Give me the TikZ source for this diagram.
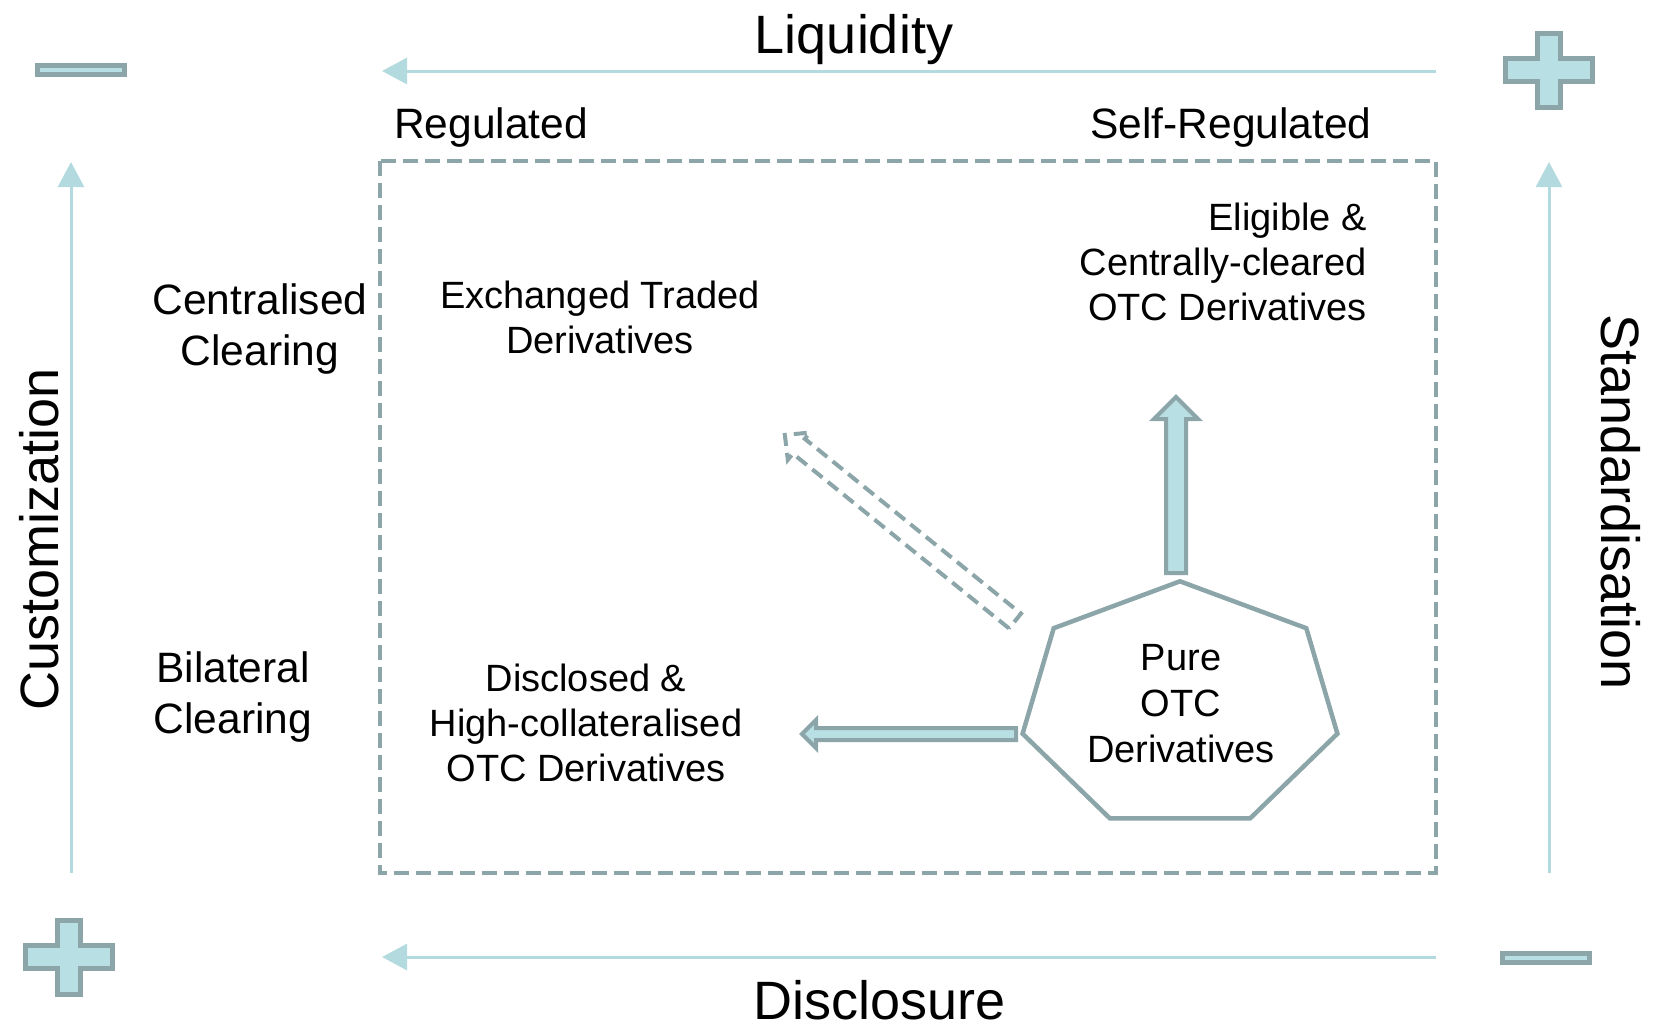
\documentclass[tikz,border=0pt]{standalone}
\usepackage{fontspec}
\setmainfont{Liberation Sans}
\usetikzlibrary{arrows.meta,calc}
\definecolor{edge}{HTML}{8BA5A8}
\definecolor{pale}{HTML}{B8DFE3}
\definecolor{axis}{HTML}{B3DBDF}
\begin{document}
\begin{tikzpicture}[x=1pt,y=-1pt,
  axisline/.style={draw=axis,line width=3pt,-{Triangle[length=25pt,width=26pt]}},
  big/.style={font=\fontsize{54}{60}\selectfont, inner sep=0pt},
  side/.style={font=\fontsize{42.5}{51}\selectfont, inner sep=0pt, align=center},
  cell/.style={font=\fontsize{38}{45}\selectfont, inner sep=0pt, align=center},
  sign/.style={draw=edge, fill=pale, line width=5pt, line join=miter},
  blockarrow/.style={draw=edge, fill=pale, line width=4pt, line join=miter},
  ghostarrow/.style={draw=edge, line width=4pt, dash pattern=on 13pt off 7pt, line join=miter},
  frame/.style={draw=edge, line width=4pt, dash pattern=on 15pt off 7pt},
  plussign/.pic={\draw[sign] (-43.5,-11.5) -- (-11.5,-11.5) -- (-11.5,-37) -- (11.5,-37)
      -- (11.5,-11.5) -- (43.5,-11.5) -- (43.5,11.5) -- (11.5,11.5) -- (11.5,37)
      -- (-11.5,37) -- (-11.5,11.5) -- (-43.5,11.5) -- cycle;},
  minussign/.pic={\draw[sign] (-43.5,-4.5) rectangle (43.5,4.5);}
]
\useasboundingbox (0,0) rectangle (1662,1026);

% outer axes
\coordinate (liqFrom) at (1436,71);  \coordinate (liqTo) at (382,71);
\coordinate (discFrom) at (1436,957); \coordinate (discTo) at (382,957);
\coordinate (custFrom) at (71,873);  \coordinate (custTo) at (71,162);
\coordinate (stdFrom) at (1549,873); \coordinate (stdTo) at (1549,162);
\draw[axisline] (liqFrom) -- (liqTo);
\draw[axisline] (discFrom) -- (discTo);
\draw[axisline] (custFrom) -- (custTo);
\draw[axisline] (stdFrom) -- (stdTo);

% plus / minus markers
\pic at (81,70) {minussign};
\pic at (1549,70) {plussign};
\pic at (69,957) {plussign};
\pic at (1546,958) {minussign};

% axis titles
\node[big, anchor=base] (liq) at (854,53) {Liquidity};
\node[big, anchor=base] (disc) at (880,1019) {Disclosure};
\node[big, anchor=base, rotate=90] (cust) at (58,539) {Customization};
\node[big, anchor=base, rotate=-90] (std) at (1601,502) {Standardisation};

% row / column headings (multi-line nodes are placed by their last baseline)
\node[side, anchor=base] (reg) at (491,138) {Regulated};
\node[side, anchor=base] (selfreg) at (1231,138) {Self-Regulated};
\node[side, anchor=base] (central) at (260,365) {Centralised\\Clearing};
\node[side, anchor=base] (bilat) at (233,733) {Bilateral\\Clearing};

% dashed frame
\draw[frame] (380,161) rectangle (1436,873);

% cells
\node[cell, anchor=base] (etd) at (600,353) {Exchanged Traded\\Derivatives};
\node[cell, anchor=base east, align=right] (ccp) at (1367,320) {Eligible \&\\Centrally-cleared\\OTC Derivatives};
\node[cell, anchor=base] (dhc) at (586,781) {Disclosed \&\\High-collateralised\\OTC Derivatives};

% heptagon around pure OTC derivatives
\draw[edge, line width=4.5pt, line join=miter]
  (1180,581.3) -- (1053.7,628.2) -- (1022.6,733.7) -- (1109.9,818.4)
  -- (1250.1,818.4) -- (1337.4,733.7) -- (1306.3,628.2) -- cycle;
\node[cell, font=\fontsize{38}{46}\selectfont, anchor=base] (pure) at (1181,762) {Pure\\OTC\\Derivatives};

% block arrows out of the heptagon
\coordinate (upTail) at (1176,573);
\coordinate (leftTail) at (1016,734);
\draw[blockarrow] ($(upTail)+(-10,0)$) -- (1166,419) -- (1154,419) -- (1176,397)
  -- (1198,419) -- (1186,419) -- ($(upTail)+(10,0)$) -- cycle;
\draw[blockarrow] ($(leftTail)+(0,-6)$) -- (816,728) -- (816,720) -- (802,734)
  -- (816,748) -- (816,740) -- ($(leftTail)+(0,6)$) -- cycle;
\begin{scope}[shift={(1015,621)}, rotate=141.04]
  \draw[ghostarrow] (0,-9.5) -- (278,-9.5) -- (278,-17.5) -- (296,0)
    -- (278,17.5) -- (278,9.5) -- (0,9.5) -- cycle;
\end{scope}
\end{tikzpicture}
\end{document}
